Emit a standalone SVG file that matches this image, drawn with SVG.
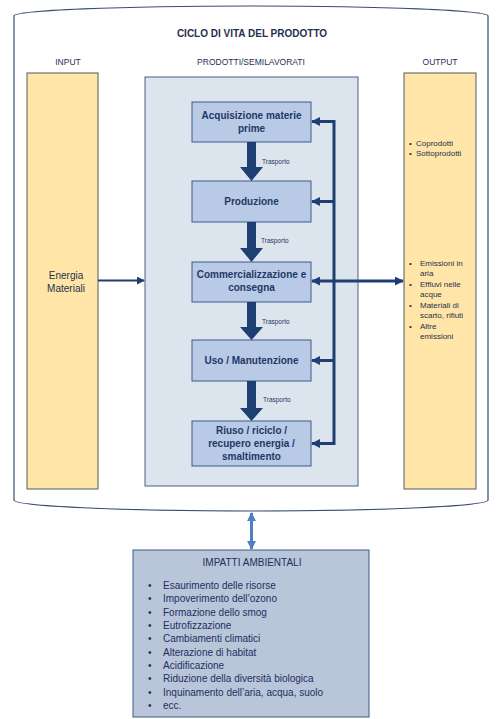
<svg xmlns="http://www.w3.org/2000/svg" width="502" height="719" viewBox="0 0 502 719">
<defs>
<style>
text{font-family:"Liberation Sans",Arial,sans-serif;}
.hdr{font-size:8.5px;fill:#1F2F4F;text-anchor:middle;}
.ttl{font-size:10px;font-weight:bold;fill:#1F2F4F;text-anchor:middle;}
.col{fill:#FFE6A8;stroke:#555A60;stroke-width:1;}
.step rect{fill:#B8CAE6;stroke:#3D5A8A;stroke-width:1;}
.step text{font-size:10px;font-weight:bold;fill:#1F3864;text-anchor:middle;}
.tr{font-size:6.5px;fill:#1F3864;}
.fb{fill:none;stroke:#1F3F73;stroke-width:3;}
.big{fill:#1F3F73;}
.out{font-size:8px;fill:#1F2F4F;}
.imp{font-size:10px;fill:#1F2F5F;}
</style>
<marker id="ah" viewBox="0 0 10 10" refX="9" refY="5" markerWidth="3" markerHeight="3" orient="auto-start-reverse" markerUnits="strokeWidth">
<path d="M0,0 L10,5 L0,10 Z" fill="#1F3F73"/>
</marker>
<marker id="ah2" viewBox="0 0 10 10" refX="9" refY="5" markerWidth="4" markerHeight="4" orient="auto-start-reverse" markerUnits="strokeWidth">
<path d="M0,0 L10,5 L0,10 Z" fill="#1F3F73"/>
</marker>
<marker id="ah3" viewBox="0 0 10 10" refX="9" refY="5" markerWidth="3" markerHeight="3" orient="auto-start-reverse" markerUnits="strokeWidth">
<path d="M0,0 L10,5 L0,10 Z" fill="#4F7FBF"/>
</marker>
</defs>
<rect width="502" height="719" fill="#FFFFFF"/>

<g id="ciclo">
<path d="M14,16 A237,10 0 0 1 488,16 L488,500 A237,11 0 0 1 14,500 Z" fill="#FFFFFF" stroke="#3A4F6E" stroke-width="1.2"/>
<text class="ttl" x="252" y="37">CICLO DI VITA DEL PRODOTTO</text>
</g>

<g id="input">
<text class="hdr" x="68" y="65">INPUT</text>
<rect class="col" x="27" y="73" width="71" height="416"/>
<text x="66" y="278.5" font-size="10" fill="#1F2F4F" text-anchor="middle">Energia</text>
<text x="66" y="291.5" font-size="10" fill="#1F2F4F" text-anchor="middle">Materiali</text>
</g>

<g id="prodotti">
<text class="hdr" x="251" y="65">PRODOTTI/SEMILAVORATI</text>
<rect x="145" y="77" width="213" height="409" fill="#DCE4EE" stroke="#4A6080" stroke-width="1"/>
</g>

<g id="output">
<text class="hdr" x="440" y="65">OUTPUT</text>
<rect class="col" x="404" y="73" width="72" height="416"/>
<text class="out" x="409" y="146">•</text><text class="out" x="416" y="146">Coprodotti</text>
<text class="out" x="409" y="156">•</text><text class="out" x="416" y="156">Sottoprodotti</text>
<text class="out" x="409" y="265.5">•</text><text class="out" x="420" y="265.5">Emissioni in</text>
<text class="out" x="420" y="276">aria</text>
<text class="out" x="409" y="286.5">•</text><text class="out" x="420" y="286.5">Effluvi nelle</text>
<text class="out" x="420" y="297">acque</text>
<text class="out" x="409" y="307.5">•</text><text class="out" x="420" y="307.5">Materiali di</text>
<text class="out" x="420" y="318">scarto, rifiuti</text>
<text class="out" x="409" y="328.5">•</text><text class="out" x="420" y="328.5">Altre</text>
<text class="out" x="420" y="339">emissioni</text>
</g>

<g id="acquisizione" class="step">
<rect x="192" y="102" width="119" height="40"/>
<text x="251.5" y="118.5">Acquisizione materie</text>
<text x="251.5" y="131.5">prime</text>
</g>
<g id="produzione" class="step">
<rect x="192" y="181" width="119" height="41"/>
<text x="251.5" y="205">Produzione</text>
</g>
<g id="commercializzazione" class="step">
<rect x="192" y="262" width="119" height="40"/>
<text x="251.5" y="277.5">Commercializzazione e</text>
<text x="251.5" y="290.5">consegna</text>
</g>
<g id="uso" class="step">
<rect x="192" y="340" width="119" height="41"/>
<text x="251.5" y="364">Uso / Manutenzione</text>
</g>
<g id="riuso" class="step">
<rect x="192" y="421" width="119" height="45"/>
<text x="251.5" y="433.5">Riuso / riciclo /</text>
<text x="251.5" y="446.5">recupero energia /</text>
<text x="251.5" y="459.5">smaltimento</text>
</g>

<g id="impatti">
<rect x="133" y="550" width="236" height="167" fill="#B9C5D9" stroke="#3A5A8A" stroke-width="1"/>
<text class="imp" x="252" y="566" text-anchor="middle">IMPATTI AMBIENTALI</text>
<g class="imp">
<text x="148" y="589">•</text><text x="163" y="589">Esaurimento delle risorse</text>
<text x="148" y="602.3">•</text><text x="163" y="602.3">Impoverimento dell’ozono</text>
<text x="148" y="615.6">•</text><text x="163" y="615.6">Formazione dello smog</text>
<text x="148" y="629">•</text><text x="163" y="629">Eutrofizzazione</text>
<text x="148" y="642.3">•</text><text x="163" y="642.3">Cambiamenti climatici</text>
<text x="148" y="655.6">•</text><text x="163" y="655.6">Alterazione di habitat</text>
<text x="148" y="669">•</text><text x="163" y="669">Acidificazione</text>
<text x="148" y="682.3">•</text><text x="163" y="682.3">Riduzione della diversità biologica</text>
<text x="148" y="695.6">•</text><text x="163" y="695.6">Inquinamento dell’aria, acqua, suolo</text>
<text x="148" y="709">•</text><text x="163" y="709">ecc.</text>
</g>
</g>

<g id="connectors">
<path class="big" d="M247,142 H256 V167 H263 L251.5,181 L240,167 H247 Z"/>
<path class="big" d="M247,222 H256 V248 H263 L251.5,262 L240,248 H247 Z"/>
<path class="big" d="M247,302 H256 V327 H263 L251.5,340 L240,327 H247 Z"/>
<path class="big" d="M247,381 H256 V408 H263 L251.5,421 L240,408 H247 Z"/>
<text class="tr" x="262" y="163.5">Trasporto</text>
<text class="tr" x="261" y="243">Trasporto</text>
<text class="tr" x="262" y="323.5">Trasporto</text>
<text class="tr" x="263" y="402">Trasporto</text>
<path class="fb" d="M312,121.5 H334 V443.5 H312" marker-start="url(#ah)" marker-end="url(#ah)"/>
<path class="fb" d="M334,201.5 H312" marker-end="url(#ah)"/>
<path class="fb" d="M334,360.5 H312" marker-end="url(#ah)"/>
<path class="fb" d="M312,281 H403" marker-start="url(#ah)" marker-end="url(#ah)"/>
<path d="M98,280.5 H144" fill="none" stroke="#1F3F73" stroke-width="2" marker-end="url(#ah2)"/>
<path d="M251.5,513 V549" fill="none" stroke="#4F7FBF" stroke-width="3" marker-start="url(#ah3)" marker-end="url(#ah3)"/>
</g>
</svg>
